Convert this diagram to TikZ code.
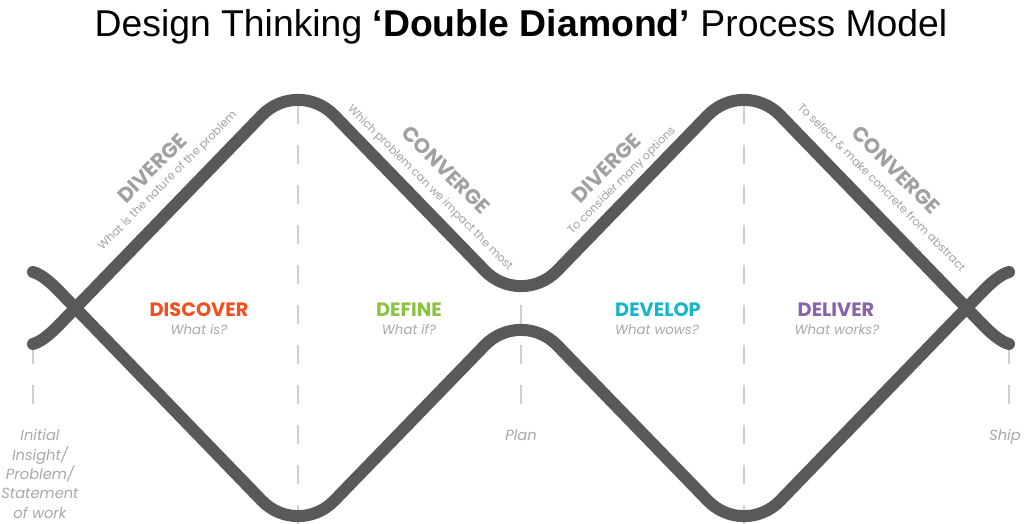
\documentclass[tikz,border=0pt]{standalone}
\usepackage{fontspec}
\setmainfont{Poppins}
\newfontfamily\titlefont{Liberation Sans}
\definecolor{linegray}{HTML}{58595B}
\definecolor{guidegray}{HTML}{CFCFCF}
\definecolor{labelgray}{HTML}{9FA1A4}
\definecolor{notegray}{HTML}{A8A8A8}
\definecolor{discovercol}{HTML}{F1501E}
\definecolor{definecol}{HTML}{8CC23F}
\definecolor{developcol}{HTML}{17B5CA}
\definecolor{delivercol}{HTML}{8A62A8}
\tikzset{
  dline/.style={line width=9pt, color=linegray, line cap=round, rounded corners=39pt},
  dend/.style={line width=9pt, color=linegray, line cap=round, sharp corners},
  guide/.style={line width=2.2pt, color=guidegray, dash pattern=on 14.25pt off 15.75pt},
  phase/.style={font=\bfseries\fontsize{14.5}{16}\selectfont},
  phasenote/.style={font=\itshape\fontsize{10}{11}\selectfont, text=notegray},
  slant/.style={font=\bfseries\fontsize{15.5}{18}\selectfont, text=labelgray},
  slantnote/.style={font=\fontsize{8.5}{10}\selectfont, text=labelgray},
  milestone/.style={font=\itshape\fontsize{11}{14.5}\selectfont, text=notegray, align=center}
}
\begin{document}
\begin{tikzpicture}[x=0.75pt,y=-0.75pt]
\useasboundingbox (0,0) rectangle (1024,524);
\node[font=\titlefont\fontsize{28}{32}\selectfont, anchor=base] (title) at (521,37)
  {Design Thinking \textbf{‘Double Diamond’} Process Model};
\draw [guide] (33,345) -- (33,404);
\draw [guide] (298,105) -- (298,524);
\draw [guide] (521,305) -- (521,404);
\draw [guide] (744,105) -- (744,524);
\draw [guide] (1009,345) -- (1009,404);
\draw [dline] (57,289) -- (298,538) -- (521,308) -- (744,538) -- (985,289);
\draw [dline] (57,327) -- (298,78) -- (521,308) -- (744,78) -- (985,327);
\draw [dend] (57,289) .. controls (48,280) and (40,274) .. (33,272);
\draw [dend] (57,327) .. controls (48,336) and (40,342) .. (33,344);
\draw [dend] (985,289) .. controls (994,280) and (1002,274) .. (1009,272);
\draw [dend] (985,327) .. controls (994,336) and (1002,342) .. (1009,344);
\node[slant, rotate=45] (diverge1) at (152,168) {DIVERGE};
\node[slantnote, rotate=45] (diverge1note) at (168,181) {What is the nature of the problem};
\node[slant, rotate=-45] (converge1) at (446,170) {CONVERGE};
\node[slantnote, rotate=-45] (converge1note) at (430,188) {Which problem can we impact the most};
\node[slant, rotate=45] (diverge2) at (606,168) {DIVERGE};
\node[slantnote, rotate=45] (diverge2note) at (622,181) {To consider many options};
\node[slant, rotate=-45] (converge2) at (896,170) {CONVERGE};
\node[slantnote, rotate=-45] (converge2note) at (882,187) {To select \& make concrete from abstract};
\node[phase, text=discovercol, anchor=base] (discover) at (199,316) {DISCOVER};
\node[phasenote, anchor=base] (discovernote) at (199,334) {What is?};
\node[phase, text=definecol, anchor=base] (define) at (409,316) {DEFINE};
\node[phasenote, anchor=base] (definenote) at (409,334) {What if?};
\node[phase, text=developcol, anchor=base] (develop) at (658,316) {DEVELOP};
\node[phasenote, anchor=base] (developnote) at (657,334) {What wows?};
\node[phase, text=delivercol, anchor=base] (deliver) at (836,316) {DELIVER};
\node[phasenote, anchor=base] (delivernote) at (837,334) {What works?};
\node[milestone, anchor=north] (initial) at (40,425) {Initial\\Insight/\\Problem/\\Statement\\of work};
\node[milestone, anchor=north] (plan) at (521,425) {Plan};
\node[milestone, anchor=north] (ship) at (1005,425) {Ship};
\end{tikzpicture}
\end{document}
